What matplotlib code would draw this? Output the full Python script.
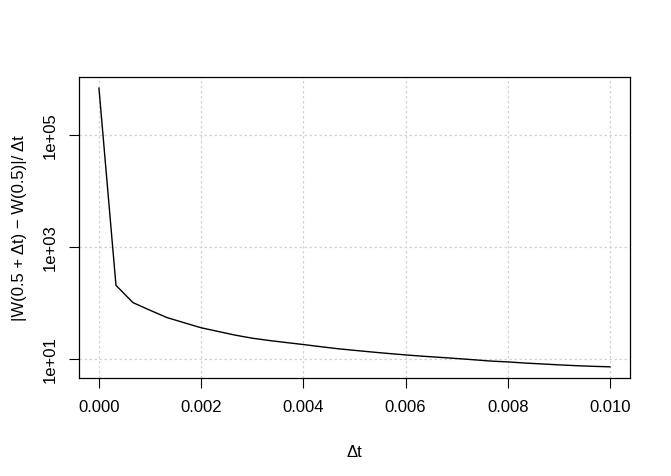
import matplotlib
matplotlib.use("Agg")
import matplotlib.pyplot as plt
import numpy as np

dt = [0.0, 0.000333, 0.000667, 0.001, 0.001333, 0.001667, 0.002, 0.002333,
      0.002667, 0.003, 0.003333, 0.003667, 0.004, 0.004333, 0.004667, 0.005,
      0.005333, 0.005667, 0.006, 0.006333, 0.006667, 0.007, 0.007333, 0.007667,
      0.008, 0.008333, 0.008667, 0.009, 0.009333, 0.009667, 0.01]
ratio = [6.9e5, 204, 100, 73, 54, 43.7, 35.5, 30.5, 26.2, 23.1, 21.0, 19.3,
         17.8, 16.3, 15.0, 14.0, 13.1, 12.3, 11.6, 11.0, 10.5, 10.0, 9.5, 9.0,
         8.7, 8.3, 8.0, 7.7, 7.45, 7.25, 7.1]
xticks = [0.000, 0.002, 0.004, 0.006, 0.008, 0.010]
xticklabels = ["0.000", "0.002", "0.004", "0.006", "0.008", "0.010"]
yticks = [1e1, 1e3, 1e5]
yticklabels = ["1e+01", "1e+03", "1e+05"]

plt.rcParams['font.family'] = ['Liberation Sans', 'DejaVu Sans']
fig = plt.figure(figsize=(6.71, 4.77), dpi=100)
ax = fig.add_axes([0.117, 0.2055, 0.8225, 0.631])

ax.plot(dt, ratio, color='black', lw=1.0)
ax.set_yscale('log')

xr = max(dt) - min(dt)
ax.set_xlim(min(dt) - 0.04 * xr, max(dt) + 0.04 * xr)
lmin, lmax = np.log10(min(ratio)), np.log10(max(ratio))
lr = lmax - lmin
ax.set_ylim(10 ** (lmin - 0.04 * lr), 10 ** (lmax + 0.04 * lr))

ax.set_xticks(xticks)
ax.set_xticklabels(xticklabels, fontsize=12)
ax.set_yticks(yticks)
ax.set_yticklabels(yticklabels, fontsize=12, rotation=90, va='center')
ax.yaxis.set_minor_locator(matplotlib.ticker.NullLocator())
ax.tick_params(direction='out', length=7, width=0.8, pad=8)

for x in xticks:
    ax.axvline(x, color='#d3d3d3', lw=0.9, ls=(0, (2, 2)), zorder=0)
for y in yticks:
    ax.axhline(y, color='#d3d3d3', lw=0.9, ls=(0, (2, 2)), zorder=0)

for s in ax.spines.values():
    s.set_linewidth(0.9)

ax.set_xlabel("Δt", fontsize=12, labelpad=22)
ax.set_ylabel("|W(0.5 + Δt) − W(0.5)|/ Δt", fontsize=12, labelpad=11)

fig.savefig("out.png", dpi=100)
